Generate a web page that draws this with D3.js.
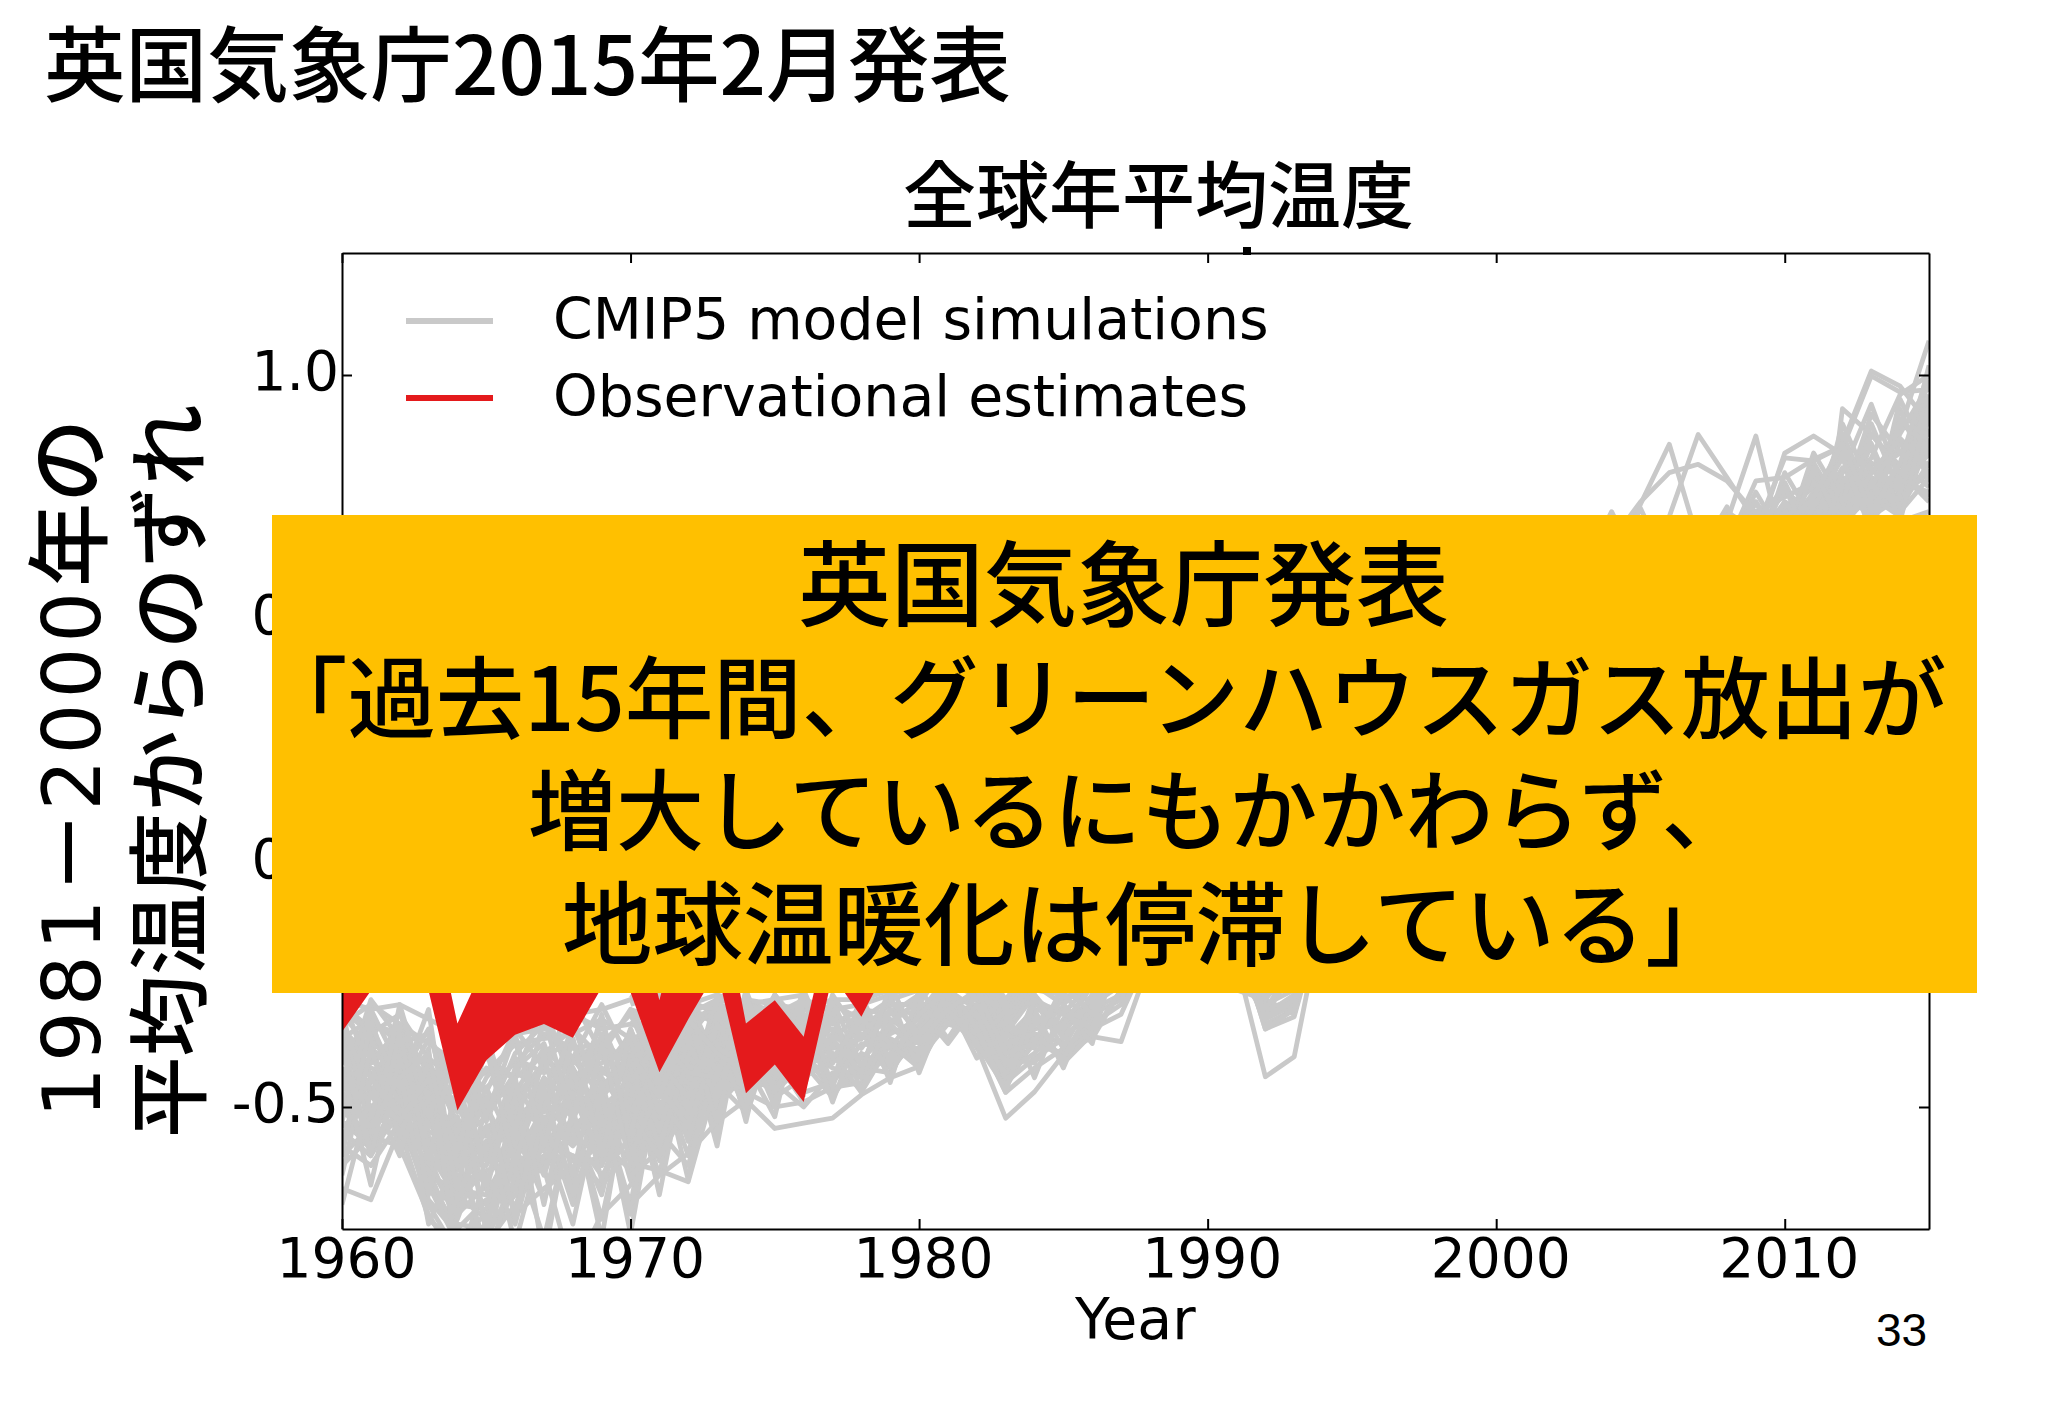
<!DOCTYPE html>
<html>
  <head>
    <meta charset="utf-8">
    <script src="https://d3js.org/d3.v7.min.js" charset="utf-8"></script>
    <style>
      body { margin: 0; background: #fff; }
      text { fill: #000; }
      .jp { font-family: "Noto Sans CJK JP"; font-weight: 500; }
      .plot text { font-family: "DejaVu Sans"; }
    </style>
  </head>
  <body>
    <svg id="chart" width="2048" height="1418"></svg>

    <script>
      var pageTitle = "英国気象庁2015年2月発表"
      var chartTitle = "全球年平均温度"
      var xLabel = "Year"
      var pageNumber = "33"
      var legendLabels = ["CMIP5 model simulations", "Observational estimates"]
      var yLabelPartsA = ["1981", "－", "2000", "年の"]
      var yLabelB = "平均温度からのずれ"
      var boxLines = ["英国気象庁発表", "「過去15年間、グリーンハウスガス放出が", "増大しているにもかかわらず、", "地球温暖化は停滞している」"]

      var xTicks = [1960, 1970, 1980, 1990, 2000, 2010]
      var yTicks = [-0.5, 0, 0.5, 1]
      var yTickLabels = ["-0.5", "0.0", "0.5", "1.0"]

      // observational band, 1960 onward (hidden behind the box above about -0.27)
      var obsYears = d3.range(1960, 1981)
      var obsLower = [-.346,-.262,-.262,-.262,-.507,-.404,-.352,-.33,-.358,-.255,-.265,-.429,-.32,-.22,-.472,-.413,-.49,-.23,-.315,-.2,-.15]
      var obsUpper = [-.1,-.1,-.1,-.05,-.329,-.2,-.1,-.1,-.1,-.1,-.05,-.281,-.05,-.02,-.329,-.281,-.356,-.1,-.1,-.05,-.05]

      // model runs 1960-1976, only the part under the box can be seen
      var earlyRuns = [
        [-.28,-.30,-.29,-.32,-.35,-.36,-.33,-.30,-.31,-.30,-.28,-.31,-.29,-.27,-.29,-.28,-.27],
        [-.33,-.29,-.33,-.37,-.41,-.38,-.35,-.34,-.31,-.34,-.33,-.29,-.33,-.30,-.28,-.31,-.30],
        [-.30,-.35,-.31,-.40,-.45,-.43,-.37,-.36,-.35,-.32,-.36,-.34,-.30,-.33,-.31,-.29,-.33],
        [-.36,-.32,-.37,-.35,-.48,-.46,-.41,-.35,-.38,-.37,-.31,-.37,-.35,-.29,-.34,-.32,-.29],
        [-.38,-.41,-.34,-.43,-.51,-.42,-.44,-.39,-.34,-.40,-.38,-.32,-.38,-.35,-.30,-.36,-.34],
        [-.35,-.39,-.42,-.46,-.47,-.50,-.40,-.43,-.41,-.36,-.42,-.40,-.33,-.37,-.36,-.31,-.37],
        [-.41,-.37,-.40,-.49,-.54,-.48,-.47,-.38,-.44,-.43,-.35,-.43,-.41,-.34,-.39,-.38,-.32],
        [-.43,-.45,-.38,-.47,-.57,-.52,-.43,-.46,-.37,-.45,-.44,-.36,-.40,-.42,-.33,-.40,-.36],
        [-.40,-.43,-.46,-.52,-.55,-.56,-.49,-.42,-.47,-.39,-.46,-.42,-.37,-.39,-.41,-.35,-.39],
        [-.46,-.42,-.44,-.50,-.60,-.54,-.52,-.48,-.40,-.48,-.41,-.45,-.43,-.36,-.42,-.41,-.35],
        [-.44,-.48,-.41,-.55,-.58,-.59,-.46,-.50,-.45,-.42,-.49,-.38,-.46,-.44,-.38,-.43,-.40],
        [-.48,-.46,-.49,-.53,-.63,-.57,-.55,-.44,-.49,-.47,-.40,-.47,-.39,-.45,-.43,-.37,-.42],
        [-.42,-.50,-.45,-.58,-.61,-.62,-.51,-.53,-.43,-.50,-.45,-.41,-.48,-.38,-.44,-.40,-.38],
        [-.50,-.44,-.47,-.56,-.66,-.60,-.58,-.47,-.52,-.44,-.52,-.44,-.42,-.47,-.36,-.44,-.41],
        [-.47,-.53,-.43,-.61,-.64,-.65,-.54,-.56,-.46,-.53,-.43,-.50,-.40,-.43,-.46,-.35,-.43],
        [-.52,-.47,-.50,-.59,-.69,-.63,-.61,-.50,-.55,-.48,-.55,-.46,-.47,-.37,-.41,-.45,-.36],
        [-.45,-.55,-.48,-.64,-.67,-.68,-.57,-.59,-.49,-.56,-.47,-.53,-.44,-.49,-.35,-.42,-.44],
        [-.54,-.50,-.52,-.62,-.72,-.66,-.64,-.53,-.58,-.51,-.58,-.49,-.50,-.41,-.45,-.38,-.39],
        [-.49,-.57,-.51,-.67,-.70,-.71,-.60,-.62,-.52,-.59,-.50,-.56,-.46,-.52,-.38,-.46,-.34],
        [-.56,-.52,-.54,-.65,-.75,-.69,-.67,-.56,-.61,-.54,-.61,-.52,-.53,-.43,-.48,-.40,-.45],
        [-.37,-.44,-.36,-.42,-.53,-.58,-.53,-.48,-.51,-.46,-.39,-.44,-.36,-.40,-.37,-.33,-.31],
        [-.31,-.38,-.43,-.44,-.59,-.61,-.48,-.41,-.42,-.52,-.48,-.35,-.42,-.32,-.35,-.30,-.35],
        [-.39,-.33,-.35,-.51,-.62,-.55,-.50,-.54,-.44,-.41,-.37,-.48,-.31,-.38,-.32,-.34,-.28],
        [-.34,-.40,-.47,-.48,-.65,-.70,-.56,-.45,-.48,-.55,-.51,-.42,-.45,-.34,-.40,-.29,-.32],
        [-.51,-.45,-.39,-.57,-.68,-.73,-.62,-.58,-.54,-.49,-.57,-.47,-.37,-.46,-.30,-.39,-.37],
        [-.55,-.60,-.50,-.60,-.74,-.75,-.68,-.61,-.56,-.60,-.53,-.55,-.51,-.40,-.47,-.36,-.40],
        [-.53,-.58,-.52,-.69,-.76,-.77,-.65,-.60,-.63,-.57,-.63,-.54,-.49,-.44,-.37,-.43,-.31],
        [-.60,-.54,-.56,-.63,-.77,-.72,-.63,-.57,-.60,-.62,-.49,-.59,-.44,-.50,-.42,-.33,-.38],
        [-.58,-.62,-.53,-.66,-.78,-.80,-.66,-.625,-.84,-.72,-.66,-.50,-.52,-.42,-.44,-.41,-.33],
        [-.667,-.69,-.545,-.728,-.79,-.74,-.72,-.667,-.625,-.60,-.52,-.58,-.41,-.47,-.39,-.37,-.40],
        [-.62,-.56,-.58,-.72,-.82,-.78,-.70,-.60,-.56,-.64,-.56,-.45,-.50,-.39,-.43,-.35,-.30],
        [-.50,-.59,-.47,-.70,-.80,-.82,-.64,-.58,-.60,-.66,-.59,-.51,-.43,-.48,-.34,-.38,-.42],
        [-.29,-.34,-.47,-.36,-.44,-.53,-.39,-.33,-.40,-.29,-.41,-.30,-.36,-.28,-.37,-.27,-.34],
        [-.47,-.28,-.36,-.45,-.39,-.47,-.34,-.42,-.28,-.39,-.30,-.42,-.28,-.41,-.27,-.35,-.30],
        [-.32,-.48,-.30,-.54,-.43,-.40,-.44,-.29,-.46,-.33,-.47,-.28,-.44,-.31,-.42,-.29,-.37],
        [-.52,-.35,-.44,-.34,-.56,-.44,-.37,-.51,-.33,-.49,-.34,-.48,-.32,-.46,-.30,-.44,-.28],
        [-.27,-.44,-.52,-.41,-.50,-.60,-.42,-.37,-.53,-.35,-.54,-.36,-.49,-.30,-.47,-.32,-.41],
        [-.44,-.31,-.55,-.47,-.60,-.46,-.59,-.40,-.36,-.58,-.36,-.52,-.34,-.48,-.33,-.47,-.30],
        [-.35,-.52,-.33,-.60,-.52,-.67,-.45,-.55,-.41,-.38,-.60,-.33,-.54,-.35,-.50,-.31,-.46],
        [-.57,-.39,-.49,-.43,-.71,-.50,-.61,-.44,-.57,-.43,-.44,-.57,-.38,-.51,-.32,-.48,-.33],
        [-.30,-.56,-.37,-.68,-.46,-.75,-.52,-.64,-.47,-.62,-.40,-.47,-.55,-.33,-.52,-.34,-.47],
        [-.40,-.36,-.58,-.50,-.73,-.57,-.71,-.49,-.66,-.45,-.65,-.40,-.41,-.53,-.31,-.50,-.29],
        [-.53,-.30,-.42,-.74,-.60,-.79,-.55,-.69,-.54,-.68,-.44,-.61,-.34,-.45,-.51,-.28,-.48],
        [-.33,-.47,-.60,-.38,-.83,-.64,-.74,-.52,-.70,-.50,-.70,-.39,-.57,-.29,-.41,-.52,-.27],
        [-.45,-.41,-.34,-.58,-.52,-.85,-.59,-.77,-.51,-.73,-.46,-.64,-.35,-.55,-.28,-.40,-.49],
        [-.60,-.33,-.46,-.30,-.69,-.54,-.78,-.56,-.74,-.47,-.76,-.43,-.60,-.31,-.53,-.27,-.36],
        [-.36,-.59,-.29,-.49,-.41,-.76,-.47,-.81,-.50,-.77,-.42,-.68,-.38,-.56,-.29,-.49,-.26],
        [-.64,-.38,-.56,-.41,-.62,-.48,-.73,-.46,-.68,-.52,-.72,-.40,-.65,-.33,-.50,-.30,-.43],
        [-.42,-.66,-.40,-.52,-.37,-.66,-.44,-.70,-.42,-.65,-.48,-.60,-.36,-.58,-.27,-.45,-.31],
        [-.70,-.47,-.53,-.44,-.59,-.38,-.62,-.39,-.64,-.37,-.62,-.37,-.54,-.29,-.49,-.28,-.38],
        [-.38,-.60,-.35,-.61,-.35,-.52,-.35,-.58,-.36,-.60,-.34,-.56,-.30,-.50,-.26,-.42,-.33],
        [-.48,-.54,-.44,-.39,-.67,-.35,-.55,-.32,-.52,-.31,-.57,-.33,-.48,-.27,-.44,-.31,-.29]
      ]

      // model runs 1970-1995
      var middleRuns = [
        [-.70,-.64,-.595,-.53,-.486,-.544,-.533,-.523,-.475,-.44,-.417,-.31,-.376,-.523,-.469,-.393,-.356,-.366,-.2,-.15,-.1,-.2,-.438,-.397,-.1,-.1],
        [-.615,-.63,-.653,-.44,-.47,-.50,-.49,-.46,-.45,-.37,-.40,-.33,-.35,-.47,-.42,-.38,-.33,-.29,-.2,-.12,-.1,-.15,-.34,-.315,-.1,-.05],
        [-.64,-.59,-.46,-.50,-.43,-.47,-.41,-.48,-.39,-.42,-.36,-.30,-.34,-.45,-.40,-.36,-.30,-.27,-.16,-.1,-.08,-.18,-.33,-.30,-.1,-.05],
        [-.56,-.55,-.62,-.41,-.46,-.45,-.50,-.43,-.46,-.36,-.39,-.29,-.32,-.44,-.37,-.39,-.34,-.31,-.18,-.14,-.1,-.16,-.32,-.29,-.12,-.08],
        [-.52,-.60,-.50,-.46,-.39,-.48,-.44,-.40,-.43,-.40,-.35,-.32,-.30,-.42,-.35,-.37,-.36,-.26,-.2,-.1,-.06,-.2,-.30,-.28,-.06,-.06],
        [-.58,-.49,-.56,-.38,-.44,-.41,-.47,-.45,-.37,-.38,-.38,-.28,-.31,-.41,-.34,-.33,-.29,-.25,-.15,-.1,-.1,-.22,-.31,-.27,-.08,-.1],
        [-.47,-.54,-.43,-.49,-.41,-.44,-.38,-.42,-.44,-.34,-.37,-.31,-.29,-.40,-.41,-.32,-.31,-.22,-.12,-.08,-.12,-.24,-.29,-.26,-.05,-.04],
        [-.50,-.45,-.52,-.43,-.37,-.42,-.43,-.37,-.41,-.39,-.33,-.27,-.33,-.39,-.31,-.35,-.27,-.24,-.17,-.12,-.07,-.26,-.28,-.31,-.1,-.07],
        [-.44,-.52,-.47,-.36,-.42,-.39,-.40,-.44,-.35,-.41,-.34,-.29,-.28,-.38,-.29,-.30,-.32,-.21,-.14,-.13,-.09,-.19,-.27,-.25,-.04,-.09],
        [-.41,-.47,-.39,-.45,-.35,-.37,-.42,-.35,-.40,-.35,-.32,-.26,-.30,-.37,-.33,-.28,-.26,-.2,-.1,-.06,-.05,-.21,-.26,-.24,-.07,-.03],
        [-.46,-.40,-.45,-.40,-.38,-.34,-.36,-.41,-.33,-.38,-.30,-.25,-.27,-.36,-.30,-.31,-.24,-.18,-.11,-.09,-.04,-.17,-.25,-.23,-.03,-.02],
        [-.38,-.43,-.36,-.42,-.34,-.40,-.33,-.38,-.36,-.32,-.36,-.24,-.26,-.35,-.27,-.34,-.25,-.19,-.08,-.05,-.03,-.14,-.31,-.22,-.02,-.06],
        [-.36,-.38,-.41,-.34,-.40,-.32,-.37,-.34,-.38,-.30,-.31,-.23,-.25,-.34,-.26,-.27,-.28,-.17,-.06,-.04,-.02,-.13,-.30,-.21,-.05,0],
        [-.33,-.35,-.34,-.37,-.31,-.36,-.31,-.36,-.31,-.33,-.28,-.22,-.24,-.33,-.25,-.29,-.23,-.16,-.09,-.03,-.01,-.12,-.28,-.2,-.01,.01],
        [-.30,-.32,-.30,-.32,-.36,-.30,-.34,-.31,-.34,-.29,-.29,-.2,-.23,-.32,-.24,-.26,-.22,-.15,-.05,-.02,0,-.11,-.24,-.19,0,.02],
        [-.28,-.29,-.33,-.29,-.30,-.33,-.29,-.33,-.30,-.31,-.27,-.19,-.22,-.31,-.23,-.25,-.21,-.14,-.04,-.01,.01,-.1,-.23,-.18,.01,.03],
        [-.27,-.31,-.28,-.31,-.33,-.28,-.32,-.29,-.32,-.28,-.26,-.18,-.21,-.30,-.22,-.24,-.2,-.13,-.03,0,.02,-.09,-.22,-.17,.02,.04],
        [-.32,-.28,-.31,-.28,-.29,-.31,-.28,-.30,-.29,-.27,-.25,-.17,-.2,-.29,-.21,-.23,-.19,-.12,-.02,.01,.03,-.08,-.21,-.16,.03,.05],
        [-.29,-.27,-.29,-.30,-.28,-.29,-.30,-.28,-.28,-.26,-.24,-.16,-.19,-.28,-.2,-.22,-.18,-.11,-.01,.02,.04,-.07,-.2,-.15,.04,.06],
        [-.35,-.42,-.48,-.35,-.39,-.35,-.39,-.47,-.42,-.43,-.34,-.28,-.36,-.46,-.36,-.40,-.31,-.28,-.15,-.08,-.05,-.15,-.34,-.30,-.05,-.03],
        [-.43,-.37,-.44,-.47,-.37,-.38,-.35,-.39,-.47,-.37,-.41,-.27,-.33,-.43,-.32,-.41,-.35,-.26,-.13,-.06,-.06,-.12,-.32,-.28,-.04,-.02],
        [-.31,-.44,-.29,-.47,-.30,-.44,-.28,-.46,-.29,-.42,-.28,-.36,-.27,-.42,-.28,-.38,-.27,-.15],
        [-.48,-.32,-.51,-.31,-.45,-.29,-.43,-.30,-.47,-.30,-.40,-.27,-.38,-.30,-.44,-.29,-.35,-.15],
        [-.36,-.55,-.35,-.53,-.28,-.41,-.31,-.49,-.33,-.44,-.30,-.37,-.29,-.41,-.30,-.42,-.28,-.15],
        [-.55,-.37,-.57,-.33,-.48,-.32,-.46,-.28,-.42,-.27,-.43,-.28,-.40,-.35,-.38,-.27,-.33,-.15],
        [-.42,-.58,-.40,-.42,-.36,-.50,-.28,-.41,-.30,-.45,-.26,-.33,-.31,-.44,-.27,-.36,-.30,-.15],
        [-.60,-.46,-.54,-.37,-.51,-.27,-.44,-.32,-.44,-.33,-.39,-.30,-.37,-.46,-.33,-.30,-.37,-.15],
        [-.34,-.51,-.37,-.48,-.32,-.47,-.35,-.45,-.27,-.41,-.31,-.26,-.35,-.43,-.39,-.33,-.25,-.15],
        [-.51,-.41,-.48,-.33,-.42,-.37,-.45,-.27,-.36,-.28,-.35,-.29,-.27,-.37,-.35,-.40,-.29,-.15],
        [-.45,-.36,-.43,-.44,-.27,-.43,-.26,-.40,-.32,-.37,-.42,-.25,-.34,-.47,-.28,-.31,-.34,-.15],
        [-.39,-.48,-.32,-.39,-.43,-.30,-.41,-.36,-.43,-.25,-.37,-.30,-.26,-.39,-.37,-.25,-.31,-.15]
      ]

      // model runs 2002-2015, what sticks out above the box
      var lateRuns = [
        [.55,.60,.62,.735,.858,.66,.60,.62,.65,.60,.65,.68,.70,.72],
        [.50,.60,.66,.74,.80,.817,.783,.714,.65,.66,.70,.75,.75,.80],
        [.50,.55,.60,.65,.71,.878,.79,.70,.62,.68,.65,.70,.78,.85],
        [.45,.50,.60,.60,.65,.68,.70,.875,.63,.72,.68,.72,.76,.80],
        [.50,.55,.58,.60,.63,.66,.68,.66,.84,.875,.837,.72,.80,.82],
        [.52,.56,.60,.62,.60,.64,.66,.68,.83,.824,.854,.70,.78,.84],
        [.50,.52,.55,.60,.62,.60,.65,.783,.79,.827,.854,.72,.80,.86],
        [.55,.58,.60,.62,.64,.66,.64,.68,.66,.71,.86,1.008,.977,.90],
        [.52,.56,.58,.60,.63,.62,.66,.65,.68,.70,.85,.998,.965,.97],
        [.50,.54,.56,.58,.60,.64,.62,.66,.70,.45,.931,.878,.813,.953],
        [.55,.60,.72,.60,.62,.66,.68,.64,.70,.74,.76,.83,.96,1.00],
        [.50,.66,.60,.727,.60,.66,.70,.68,.72,.70,.78,.75,.89,1.07],
        [.45,.50,.55,.62,.66,.70,.64,.72,.75,.78,.72,.82,.79,.99],
        [.48,.52,.57,.60,.68,.64,.72,.68,.76,.72,.79,.76,.90,.86],
        [.50,.55,.60,.58,.65,.70,.66,.70,.72,.77,.74,.80,.84,.93],
        [.52,.58,.54,.62,.60,.66,.70,.66,.74,.71,.81,.74,.86,.80],
        [.46,.52,.56,.60,.64,.60,.68,.71,.69,.75,.71,.78,.74,.89],
        [.54,.57,.60,.64,.62,.68,.64,.69,.73,.70,.77,.72,.82,.77],
        [.50,.53,.58,.61,.66,.63,.67,.65,.71,.79,.73,.79,.76,.84],
        [.47,.54,.59,.63,.61,.65,.69,.67,.66,.73,.75,.77,.80,.74],
        [.49,.56,.57,.59,.64,.67,.63,.70,.68,.76,.70,.81,.73,.82],
        [.53,.51,.61,.58,.67,.62,.66,.64,.72,.68,.78,.73,.78,.76],
        [.51,.55,.53,.65,.59,.64,.68,.72,.64,.74,.69,.76,.72,.79],
        [.48,.59,.55,.57,.63,.61,.65,.63,.70,.69,.76,.71,.75,.91],
        [.44,.50,.58,.60,.62,.59,.62,.69,.67,.72,.72,.75,.71,.87],
        [.46,.53,.52,.56,.61,.65,.60,.66,.65,.71,.74,.78,.77,.95],
        [.45,.50,.55,.60,.62,.60,.65,.62,.68,.82,.72,.90,.76,.96],
        [.48,.52,.50,.58,.60,.64,.60,.68,.62,.72,.88,.74,.93,.78],
        [.46,.54,.56,.54,.62,.60,.66,.63,.78,.66,.80,.94,.78,1.02],
        [.50,.47,.55,.58,.56,.63,.61,.74,.65,.80,.70,.86,.72,.92],
        [.42,.52,.50,.60,.58,.62,.70,.62,.80,.70,.84,.70,.95,.83],
        [.47,.49,.54,.52,.64,.58,.64,.76,.66,.84,.74,.92,.84,.88],
        [.44,.53,.51,.57,.60,.66,.62,.65,.74,.67,.90,.77,.88,.98],
        [.49,.46,.58,.55,.59,.63,.73,.60,.70,.78,.66,.88,.80,.75],
        [.43,.50,.52,.59,.57,.61,.67,.74,.62,.73,.83,.68,.91,.85],
        [.41,.51,.57,.53,.62,.58,.63,.70,.77,.64,.78,.85,.70,.94],
        [.40,.48,.53,.61,.55,.60,.69,.66,.63,.81,.68,.80,.87,.81],
        [.46,.55,.49,.56,.58,.64,.61,.72,.69,.75,.86,.72,.82,1.01]
      ]

      var svg = d3.select("#chart")
      var plotLeft = 342, plotRight = 1929, plotTop = 253, plotBottom = 1229

      var x = d3.scaleLinear().domain([1960, 2015]).range([plotLeft, plotRight])
      var y = d3.scaleLinear().domain([-0.75, 1.25]).range([plotBottom, plotTop])

      svg.append("clipPath").attr("id", "plot-clip").append("rect")
        .attr("x", plotLeft).attr("y", plotTop)
        .attr("width", plotRight - plotLeft).attr("height", plotBottom - plotTop)

      var plot = svg.append("g").attr("class", "plot")
      var marks = plot.append("g").attr("clip-path", "url(#plot-clip)")

      var runLine = function (startYear) {
        return d3.line()
          .x(function (d, i) { return x(startYear + i) })
          .y(function (d) { return y(d) })
      }

      var drawRuns = function (runs, startYear) {
        marks.append("g").selectAll("path")
            .data(runs)
            .enter()
          .append("path")
            .attr("d", runLine(startYear))
            .attr("fill", "none")
            .attr("stroke", "#c9c9c9")
            .attr("stroke-width", 4.8)
            .attr("stroke-linejoin", "round")
      }
      drawRuns(earlyRuns, 1960)
      drawRuns(middleRuns, 1970)
      drawRuns(lateRuns, 2002)

      var obsArea = d3.area()
        .x(function (d) { return x(d) })
        .y0(function (d, i) { return y(obsLower[i]) })
        .y1(function (d, i) { return y(obsUpper[i]) })

      marks.append("path")
        .datum(obsYears)
        .attr("d", obsArea)
        .attr("fill", "#e41a1c")

      // frame, ticks point inward on all four sides
      var tickLen = 10
      var styleAxis = function (g) {
        g.selectAll("path, line").attr("stroke", "#000").attr("stroke-width", 2)
        g.selectAll("text").attr("font-size", 55).attr("font-family", "DejaVu Sans")
      }

      plot.append("g").attr("transform", "translate(0," + plotBottom + ")")
        .call(d3.axisBottom(x).tickValues(xTicks).tickFormat(d3.format("d")).tickSizeInner(-tickLen).tickSizeOuter(0))
        .call(styleAxis)
        .call(function (g) { g.selectAll("text").attr("x", 4).attr("y", 48).attr("dy", 0) })

      plot.append("g").attr("transform", "translate(0," + plotTop + ")")
        .call(d3.axisTop(x).tickValues(xTicks).tickFormat("").tickSizeInner(-tickLen).tickSizeOuter(0))
        .call(styleAxis)

      plot.append("g").attr("transform", "translate(" + plotLeft + ",0)")
        .call(d3.axisLeft(y).tickValues(yTicks).tickFormat(function (d, i) { return yTickLabels[i] }).tickSizeInner(-tickLen).tickSizeOuter(0))
        .call(styleAxis)
        .call(function (g) { g.selectAll("text").attr("x", -3).attr("y", 14).attr("dy", 0) })

      plot.append("g").attr("transform", "translate(" + plotRight + ",0)")
        .call(d3.axisRight(y).tickValues(yTicks).tickFormat("").tickSizeInner(-tickLen).tickSizeOuter(0))
        .call(styleAxis)

      // stray mark sitting on the top spine in the slide
      svg.append("rect").attr("x", 1243).attr("y", 247).attr("width", 8).attr("height", 8).attr("fill", "#000")

      // legend
      var legendColors = ["#c9c9c9", "#e41a1c"]
      var legendY = [321, 398]
      legendLabels.forEach(function (label, i) {
        plot.append("line")
          .attr("x1", 406).attr("x2", 493)
          .attr("y1", legendY[i]).attr("y2", legendY[i])
          .attr("stroke", legendColors[i]).attr("stroke-width", 6)
        plot.append("text")
          .attr("x", 553).attr("y", legendY[i] + 18)
          .attr("font-size", 56.9)
          .text(label)
      })

      plot.append("text").attr("x", 1075).attr("y", 1339).attr("font-size", 57).text(xLabel)

      svg.append("text").attr("x", 1876).attr("y", 1346)
        .attr("font-family", "Liberation Sans").attr("font-size", 46).text(pageNumber)

      // slide headings
      svg.append("text").attr("class", "jp").attr("x", 44).attr("y", 95).attr("font-size", 81.6).text(pageTitle)
      svg.append("text").attr("class", "jp").attr("x", 903).attr("y", 222).attr("font-size", 73).text(chartTitle)

      // rotated y label, two lines
      var labelA = svg.append("text").attr("transform", "translate(100,1118) rotate(-90)")
      labelA.append("tspan").attr("font-family", "DejaVu Sans").attr("font-size", 80).attr("letter-spacing", 5).text(yLabelPartsA[0])
      labelA.append("tspan").attr("class", "jp").attr("font-size", 84).text(yLabelPartsA[1])
      labelA.append("tspan").attr("font-family", "DejaVu Sans").attr("font-size", 80).attr("letter-spacing", 5).text(yLabelPartsA[2])
      labelA.append("tspan").attr("class", "jp").attr("font-size", 84).text(yLabelPartsA[3])

      svg.append("text").attr("class", "jp").attr("transform", "translate(199,1138) rotate(-90)")
        .attr("font-size", 81.5).text(yLabelB)

      // yellow call-out over the chart
      svg.append("rect").attr("x", 272).attr("y", 515).attr("width", 1705).attr("height", 478).attr("fill", "#ffc000")

      var boxX = [798, 259, 528, 562]
      var boxY = [619, 731, 843, 958]
      var boxSize = [93, 88.4, 88, 90.5]
      svg.append("g").attr("class", "jp").selectAll("text")
          .data(boxLines)
          .enter()
        .append("text")
          .attr("x", function (d, i) { return boxX[i] })
          .attr("y", function (d, i) { return boxY[i] })
          .attr("font-size", function (d, i) { return boxSize[i] })
          .text(function (d) { return d })
    </script>
  </body>
</html>
